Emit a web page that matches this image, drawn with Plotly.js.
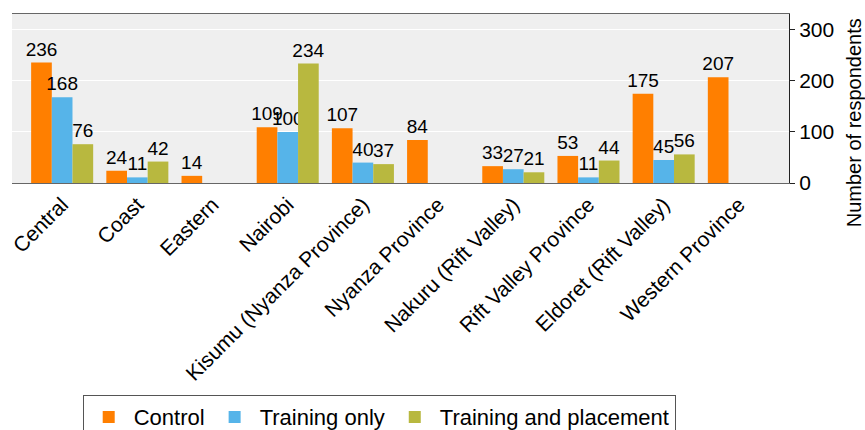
<!DOCTYPE html>
<html><head><meta charset="utf-8">
<script src="https://cdn.plot.ly/plotly-3.0.1.min.js"></script>
<style>body{margin:0;background:#fff}#c{width:865px;height:430px}</style>
</head><body><div id="c"></div>
<script>
const categories = ["Central","Coast","Eastern","Nairobi","Kisumu (Nyanza Province)","Nyanza Province","Nakuru (Rift Valley)","Rift Valley Province","Eldoret (Rift Valley)","Western Province"];
const control = [236,24,14,109,107,84,33,53,175,207];
const trainingOnly = [168,11,null,100,40,null,27,11,45,null];
const trainingPlacement = [76,42,null,234,37,null,21,44,56,null];
const seriesNames = ["Control","Training only","Training and placement"];
const colors = ["#ff7f00","#56b4e9","#b8b83f"];
const yTicks = [0,100,200,300];
const yTitle = "Number of respondents";

const fam = "Liberation Sans, Arial, sans-serif";
const mk = (vals,i) => ({
  type:"bar", x:categories, y:vals, name:seriesNames[i],
  marker:{color:colors[i], line:{width:0}},
  text: vals.map(v => v==null ? "" : String(v)),
  textposition:"outside", cliponaxis:false, constraintext:"none",
  textfont:{family:fam, size:19, color:"#000"},
  hoverinfo:"none"
});
const data = [mk(control,0), mk(trainingOnly,1), mk(trainingPlacement,2)];
const layout = {
  width:865, height:430,
  margin:{l:12, r:76, t:14, b:247, autoexpand:false},
  paper_bgcolor:"#fff", plot_bgcolor:"#efefef",
  font:{family:fam, size:19, color:"#000"},
  barmode:"group", bargap:0.175, bargroupgap:0,
  showlegend:true,
  legend:{orientation:"h", x:0.091, xanchor:"left", y:-1.255, yanchor:"top",
    bordercolor:"#555", borderwidth:1, font:{family:fam,size:22,color:"#000"},
    bgcolor:"#fff", traceorder:"normal", itemwidth:40, tracegroupgap:0},
  xaxis:{type:"category", range:[-0.667,9.667], tickangle:-45, showgrid:false, automargin:false,
    showline:true, linecolor:"#666", mirror:true, ticks:"", tickfont:{family:fam,size:21,color:"#000"}},
  yaxis:{side:"right", range:[0,331], tickvals:yTicks, ticktext:yTicks.map(String), automargin:false,
    showgrid:true, gridcolor:"#fff", gridwidth:1, zeroline:false,
    showline:true, linecolor:"#222", ticks:"outside", ticklen:5, tickcolor:"#222",
    tickfont:{family:fam,size:21,color:"#000"}},
  annotations:[{text:yTitle, xref:"paper", yref:"paper", x:1.084, y:0.355, xanchor:"center", yanchor:"middle",
    textangle:-90, showarrow:false, font:{family:fam,size:20,color:"#000"}}]
};
Plotly.newPlot("c", data, layout, {displayModeBar:false, staticPlot:true});
</script></body></html>
